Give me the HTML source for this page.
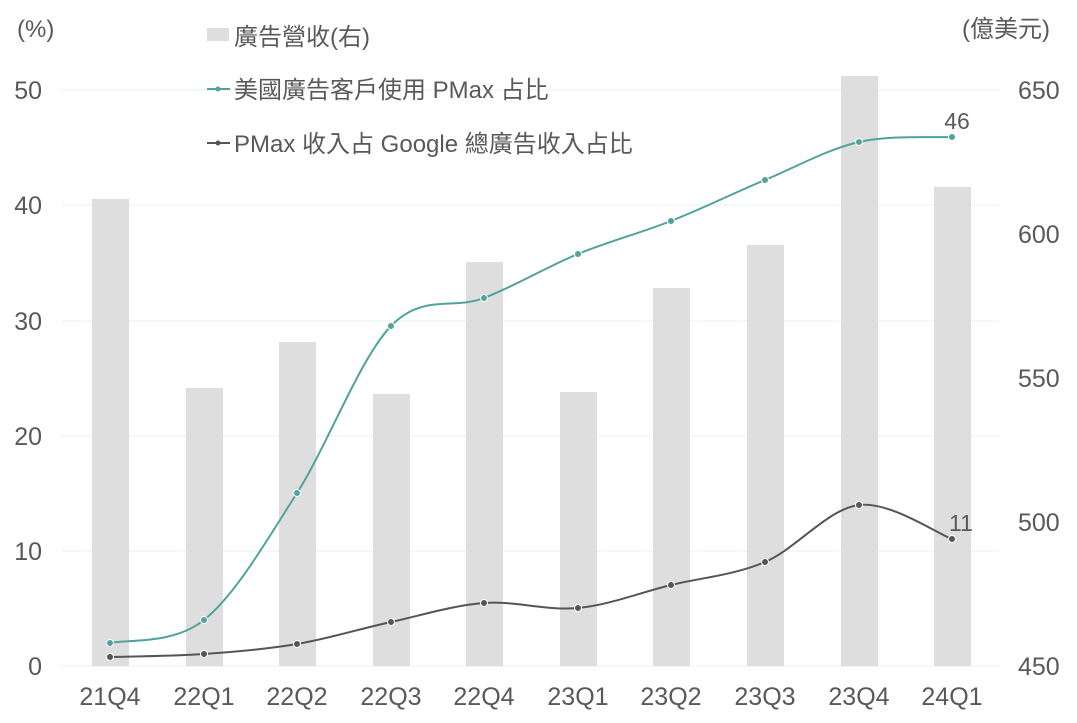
<!DOCTYPE html>
<html><head><meta charset="utf-8"><style>
html,body{margin:0;padding:0;background:#fff;}
svg text{font-family:"Liberation Sans","Noto Sans CJK TC",sans-serif;fill:#595959;}
</style></head><body>
<svg id="c" width="1077" height="718" viewBox="0 0 1077 718" xmlns="http://www.w3.org/2000/svg">
<g stroke="#e3f0ee" stroke-width="1">
<line x1="62" y1="90" x2="1000" y2="90"/><line x1="62" y1="205" x2="1000" y2="205"/>
<line x1="62" y1="321" x2="1000" y2="321"/><line x1="62" y1="436" x2="1000" y2="436"/>
<line x1="62" y1="551" x2="1000" y2="551"/><line x1="62" y1="666" x2="1000" y2="666"/>
</g>
<g fill="#dedede">
<rect x="92" y="199" width="37" height="467"/><rect x="186" y="388" width="37" height="278"/>
<rect x="279" y="342" width="37" height="324"/><rect x="373" y="394" width="37" height="272"/>
<rect x="466" y="262" width="37" height="404"/><rect x="560" y="392" width="37" height="274"/>
<rect x="653" y="288" width="37" height="378"/><rect x="747" y="245" width="37" height="421"/>
<rect x="841" y="76" width="37" height="590"/><rect x="934" y="187" width="37" height="479"/>
</g>
<g font-size="25" text-anchor="end">
<text x="42" y="99">50</text><text x="42" y="214">40</text><text x="42" y="330">30</text>
<text x="42" y="445">20</text><text x="42" y="560">10</text><text x="42" y="675">0</text>
</g>
<g font-size="25" text-anchor="start">
<text x="1018" y="99">650</text><text x="1018" y="243">600</text><text x="1018" y="387">550</text>
<text x="1018" y="531">500</text><text x="1018" y="675">450</text>
</g>
<g font-size="25" text-anchor="middle">
<text x="110" y="705">21Q4</text><text x="204" y="705">22Q1</text><text x="297" y="705">22Q2</text>
<text x="391" y="705">22Q3</text><text x="484" y="705">22Q4</text><text x="578" y="705">23Q1</text>
<text x="671" y="705">23Q2</text><text x="765" y="705">23Q3</text><text x="859" y="705">23Q4</text>
<text x="952" y="705">24Q1</text>
</g>
<text x="17" y="37" font-size="24">(%)</text>
<text x="962" y="37" font-size="24">(億美元)</text>
<rect x="207" y="28" width="22" height="13" fill="#dedede"/>
<text x="234" y="45" font-size="24">廣告營收(右)</text>
<line x1="207" y1="89" x2="230" y2="89" stroke="#4fa39a" stroke-width="2"/><circle cx="218" cy="89" r="2.5" fill="#4fa39a"/>
<text x="234" y="98" font-size="24">美國廣告客戶使用 PMax 占比</text>
<line x1="207" y1="143" x2="230" y2="143" stroke="#555" stroke-width="2"/><circle cx="218" cy="143" r="2.5" fill="#555"/>
<text x="234" y="152" font-size="24">PMax 收入占 Google 總廣告收入占比</text>
<text x="957" y="129" font-size="23" text-anchor="middle">46</text>
<text x="961" y="531" font-size="23" text-anchor="middle">11</text>
<g id="lines"></g>
</svg>
<script>
var xs=[110,204,297,391,484,578,671,765,859,952];
var t=[643,620,493,326,298,254,221,180,142,137];
var d=[657,654,644,622,603,608,585,562,505,539];
function path(ys){var p="M"+xs[0]+","+ys[0];for(var i=0;i<xs.length-1;i++){var x0=xs[Math.max(i-1,0)],y0=ys[Math.max(i-1,0)],x3=xs[Math.min(i+2,xs.length-1)],y3=ys[Math.min(i+2,xs.length-1)];var k=6;p+=" C"+(xs[i]+(xs[i+1]-x0)/k)+","+(ys[i]+(ys[i+1]-y0)/k)+" "+(xs[i+1]-(x3-xs[i])/k)+","+(ys[i+1]-(y3-ys[i])/k)+" "+xs[i+1]+","+ys[i+1];}return p;}
var g=document.getElementById("lines"),s="";
[[t,"#4fa39a"],[d,"#555555"]].forEach(function(a){s+='<path d="'+path(a[0])+'" fill="none" stroke="'+a[1]+'" stroke-width="2"/>';for(var i=0;i<xs.length;i++)s+='<circle cx="'+xs[i]+'" cy="'+a[0][i]+'" r="3.5" fill="'+a[1]+'" stroke="#fff" stroke-width="1"/>';});
g.innerHTML=s;
</script>
</body></html>
